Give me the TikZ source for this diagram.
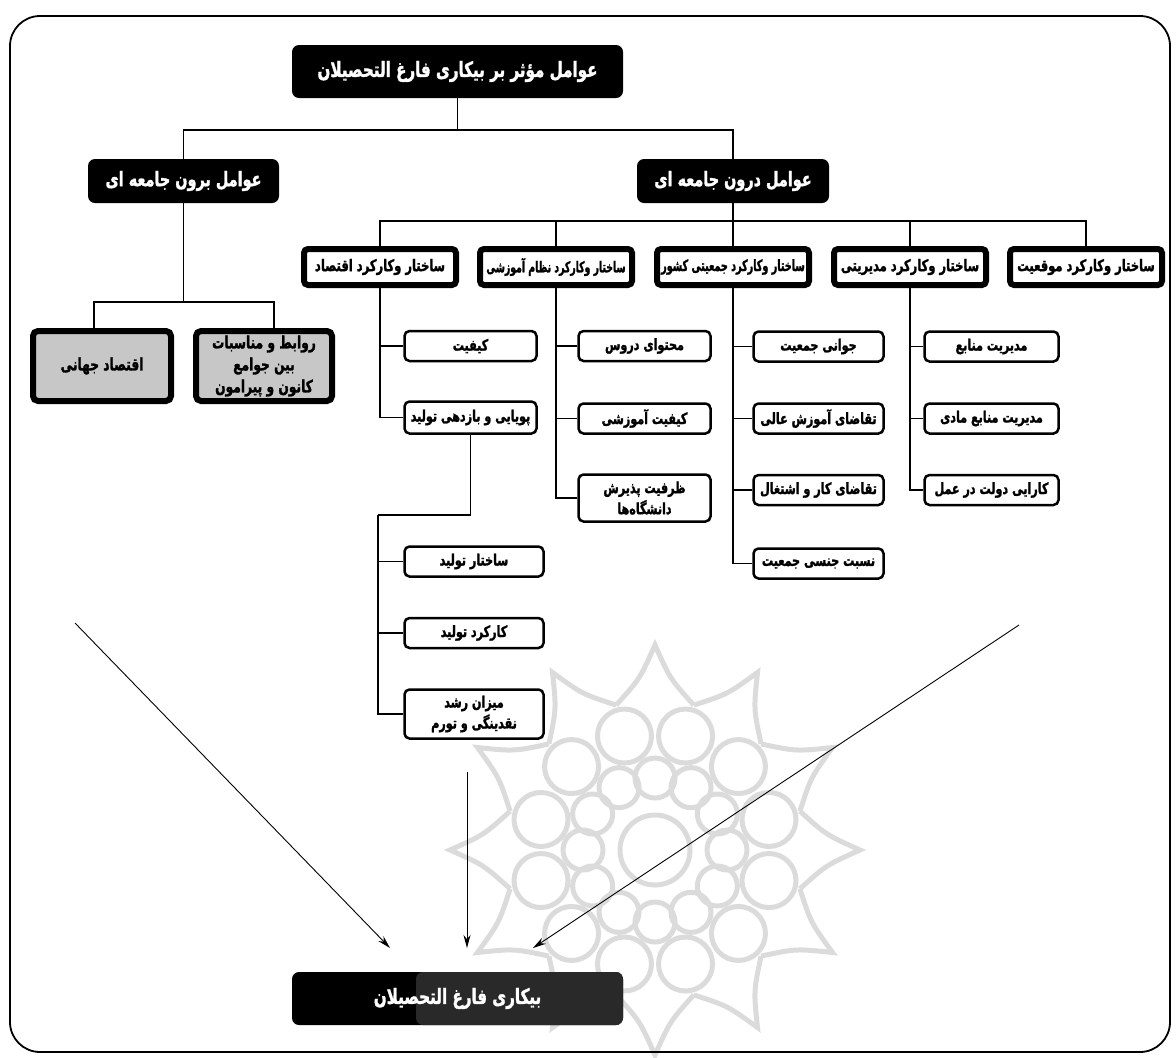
\documentclass[tikz,border=0pt]{standalone}
\usepackage{fontspec}
\usetikzlibrary{arrows.meta,calc}
\TeXXeTstate=1
\newfontfamily\arfont[Script=Arabic,FakeStretch=0.72,BoldFeatures={FakeBold=1.5}]{DejaVu Sans}
\newfontfamily\arnarrow[Script=Arabic,FakeStretch=0.62,BoldFeatures={FakeBold=1.5}]{DejaVu Sans}
\newcommand\fa[1]{{\arfont\bfseries\beginR #1\endR}}
\newcommand\fan[1]{{\arnarrow\bfseries\beginR #1\endR}}
\begin{document}
\begin{tikzpicture}[x=1pt,y=-1pt,
  blk/.style={fill=black, rounded corners=7pt, text=white, inner sep=0pt, align=center},
  lvltwo/.style={draw=black, line width=6pt, fill=white, rounded corners=4pt, minimum width=152pt, minimum height=36pt, inner sep=0pt, align=center, font=\fontsize{16}{18}\selectfont},
  outer/.style={draw=black, line width=6pt, fill=black!22, rounded corners=5pt, inner sep=0pt, align=center, font=\fontsize{17}{22}\selectfont},
  child/.style={draw=black, line width=2.5pt, fill=white, rounded corners=5pt, inner sep=0pt, align=center, font=\fontsize{15.5}{21}\selectfont},
  conn/.style={line width=1.6pt},
  arr/.style={line width=0.9pt, -{Stealth[length=13pt,width=7pt]}}]
\useasboundingbox (0,0) rectangle (1176,1058);
% watermark
\begin{scope}[shift={(655,850)}, draw=black!14, line width=5pt]
\foreach \i in {0,...,11} {
  \pgfmathsetmacro\a{30*\i}
  \draw ({\a-15}:150) .. controls ({\a-5}:172) .. ({\a}:205) .. controls ({\a+5}:172) .. ({\a+15}:150);
  \draw ({\a+15}:118) circle (27);
  \draw ({\a}:72) circle (20);
}
\draw (0,0) circle (35);
\end{scope}
% frame
\draw[line width=1.8pt, rounded corners=30pt] (10,16) rectangle (1170,1052);
% top levels
\node[blk, minimum width=331pt, minimum height=53pt, font=\fontsize{21}{24}\selectfont] (root) at (457.5,71.5) {\fa{عوامل مؤثر بر بیکاری فارغ التحصیلان}};
\node[blk, minimum width=191pt, minimum height=44pt, font=\fontsize{20}{22}\selectfont] (left1) at (183.5,181) {\fa{عوامل برون جامعه ای}};
\node[blk, minimum width=192pt, minimum height=44pt, font=\fontsize{20}{22}\selectfont] (right1) at (733,181) {\fa{عوامل درون جامعه ای}};
% level two
\node[lvltwo] (s1) at (380,267) {\fa{ساختار وکارکرد اقتصاد}};
\node[lvltwo, font=\fontsize{15}{17}\selectfont] (s2) at (556,267) {\fan{ساختار وکارکرد نظام آموزشی}};
\node[lvltwo, font=\fontsize{15.5}{17}\selectfont] (s3) at (733,267) {\fan{ساختار وکارکرد جمعیتی کشور}};
\node[lvltwo] (s4) at (910,267) {\fa{ساختار وکارکرد مدیریتی}};
\node[lvltwo] (s5) at (1086,267) {\fa{ساختار وکارکرد موقعیت}};
% outer factors children
\node[outer, minimum width=138pt, minimum height=70pt] (ecw) at (102,366) {\fa{اقتصاد جهانی}};
\node[outer, minimum width=136pt, minimum height=70pt] (rel) at (264,366) {\fa{روابط و مناسبات}\\\fa{بین جوامع}\\\fa{کانون و پیرامون}};
% economy children
\node[child, minimum width=132pt, minimum height=30pt] (c11) at (470.5,346) {\fa{کیفیت}};
\node[child, minimum width=132pt, minimum height=32pt] (c12) at (470.5,417.5) {\fa{پویایی و بازدهی تولید}};
\node[child, minimum width=139pt, minimum height=30pt] (p1) at (474,561.5) {\fa{ساختار تولید}};
\node[child, minimum width=139pt, minimum height=30pt] (p2) at (474,633) {\fa{کارکرد تولید}};
\node[child, minimum width=139pt, minimum height=49pt] (p3) at (474,714) {\fa{میزان رشد}\\\fa{نقدینگی و تورم}};
% education children
\node[child, minimum width=132pt, minimum height=30pt] (c21) at (644.5,346) {\fa{محتوای دروس}};
\node[child, minimum width=132pt, minimum height=30pt] (c22) at (644.5,418.5) {\fa{کیفیت آموزشی}};
\node[child, minimum width=132pt, minimum height=47pt] (c23) at (644.5,498) {\fa{ظرفیت پذیرش}\\\fa{دانشگاه‌ها}};
% population children
\node[child, minimum width=130pt, minimum height=30pt] (c31) at (818.5,346.5) {\fa{جوانی جمعیت}};
\node[child, minimum width=130pt, minimum height=30pt] (c32) at (818.5,418.5) {\fa{تقاضای آموزش عالی}};
\node[child, minimum width=130pt, minimum height=30pt] (c33) at (818.5,490) {\fa{تقاضای کار و اشتغال}};
\node[child, minimum width=130pt, minimum height=30pt] (c34) at (818.5,563.5) {\fa{نسبت جنسی جمعیت}};
% management children
\node[child, minimum width=134pt, minimum height=30pt] (c41) at (991.5,346.5) {\fa{مدیریت منابع}};
\node[child, minimum width=134pt, minimum height=30pt] (c42) at (991.5,418.5) {\fa{مدیریت منابع مادی}};
\node[child, minimum width=134pt, minimum height=30pt] (c43) at (991.5,490) {\fa{کارایی دولت در عمل}};
% result
\node[blk, minimum width=331pt, minimum height=53pt, font=\fontsize{21}{24}\selectfont,
  path picture={\fill[black!84] ($(path picture bounding box.north west)+(124,0)$) rectangle (path picture bounding box.south east);}] (res) at (457.5,998.5) {\fa{بیکاری فارغ التحصیلان}};
% connectors: top
\coordinate (bus1) at (457.5,130);
\draw[conn] (root.south) -- (bus1);
\draw[conn] (left1.north) |- (bus1) -| (right1.north);
% outer branch
\coordinate (bus0) at (183.5,302);
\draw[conn] (left1.south) -- (bus0);
\draw[conn] ([xshift=-8pt]ecw.north) |- (bus0) -| ([xshift=10pt]rel.north);
% inner branch
\coordinate (bus2) at (733,221);
\draw[conn] (right1.south) -- (s3.north);
\draw[conn] (s1.north) |- (bus2) -| (s5.north);
\draw[conn] (s2.north) |- (bus2);
\draw[conn] (s4.north) |- (bus2);
% economy
\draw[conn] (s1.south) |- (c11.west);
\draw[conn] (s1.south) |- (c12.west);
\coordinate (bus3) at (378,515);
\draw[conn] (c12.south) |- (bus3);
\draw[conn] (bus3) |- (p1.west);
\draw[conn] (bus3) |- (p2.west);
\draw[conn] (bus3) |- (p3.west);
% education
\draw[conn] (s2.south) |- (c21.west);
\draw[conn] (s2.south) |- (c22.west);
\draw[conn] (s2.south) |- (c23.west);
% population
\draw[conn] (s3.south) |- (c31.west);
\draw[conn] (s3.south) |- (c32.west);
\draw[conn] (s3.south) |- (c33.west);
\draw[conn] (s3.south) |- (c34.west);
% management
\draw[conn] (s4.south) |- (c41.west);
\draw[conn] (s4.south) |- (c42.west);
\draw[conn] (s4.south) |- (c43.west);
% arrows
\coordinate (aL) at (75,623);
\coordinate (aM) at (467,772);
\coordinate (aR) at (1019,625);
\coordinate (eL) at (390,948);
\coordinate (eM) at (467,948);
\coordinate (eR) at (533,948);
\draw[arr] (aL) -- (eL);
\draw[arr] (aM) -- (eM);
\draw[arr] (aR) -- (eR);
\end{tikzpicture}
\end{document}
